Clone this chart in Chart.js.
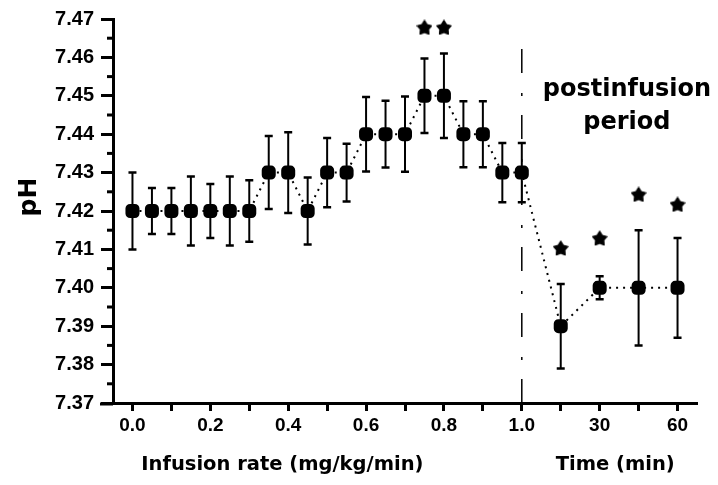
<!DOCTYPE html>
<html>
<head>
<meta charset="utf-8">
<script src="https://cdn.jsdelivr.net/npm/chart.js@4/dist/chart.umd.min.js"></script>
<style>
  body { margin: 0; background: #fff; }
  #wrap { width: 718px; height: 485px; }
</style>
</head>
<body>
<div id="wrap"><canvas id="phChart" width="718" height="485"></canvas></div>
<script>
// ================= DATA =================
const infusionRate = [0, 0.05, 0.1, 0.15, 0.2, 0.25, 0.3, 0.35, 0.4, 0.45, 0.5,
                      0.55, 0.6, 0.65, 0.7, 0.75, 0.8, 0.85, 0.9, 0.95, 1.0];
const phInfusion = [7.42, 7.42, 7.42, 7.42, 7.42, 7.42, 7.42, 7.43, 7.43, 7.42, 7.43,
                    7.43, 7.44, 7.44, 7.44, 7.45, 7.45, 7.44, 7.44, 7.43, 7.43];
const errInfusion = [0.010, 0.006, 0.006, 0.009, 0.007, 0.009, 0.008, 0.0095, 0.0105, 0.0087, 0.009,
                     0.0075, 0.0097, 0.0087, 0.0098, 0.0097, 0.011, 0.0086, 0.0086, 0.0077, 0.0077];

// postinfusion: 15, 30, 45, 60 min placed after 1.0 on the same axis
const postTime = [15, 30, 45, 60];
const postPos = [1.1, 1.2, 1.3, 1.4];
const phPost = [7.39, 7.40, 7.40, 7.40];
const errPost = [0.011, 0.003, 0.015, 0.013];

// significance marks
const starX = [0.75, 0.8, 1.1, 1.2, 1.3, 1.4];
const starY = [7.4678, 7.4678, 7.4103, 7.4129, 7.4243, 7.4217];

// ticks
const yTicks = [7.37, 7.38, 7.39, 7.40, 7.41, 7.42, 7.43, 7.44, 7.45, 7.46, 7.47];
const yMinorTicks = [7.375, 7.385, 7.395, 7.405, 7.415, 7.425, 7.435, 7.445, 7.455, 7.465];
const xTicks = [0, 0.1, 0.2, 0.3, 0.4, 0.5, 0.6, 0.7, 0.8, 0.9, 1.0, 1.1, 1.2, 1.3, 1.4];
const xTickLabels = ["0.0", "", "0.2", "", "0.4", "", "0.6", "", "0.8", "", "1.0", "", "30", "", "60"];

const divider = 1.0;

// ================= POINTS =================
const allX = infusionRate.concat(postPos);
const allY = phInfusion.concat(phPost);
const allErr = errInfusion.concat(errPost);
const points = allX.map((x, i) => ({ x: x, y: allY[i] }));
const stars = starX.map((x, i) => ({ x: x, y: starY[i] }));

// filled 5 point star used as point style
const starImg = document.createElement("canvas");
starImg.width = 16; starImg.height = 16;
(function () {
  const c = starImg.getContext("2d");
  c.fillStyle = "#000";
  c.beginPath();
  for (let k = 0; k < 10; k++) {
    const r = k % 2 ? 4.2 : 7.4;
    const a = -Math.PI / 2 + k * Math.PI / 5;
    const px = 8 + r * Math.cos(a), py = 8.6 + r * Math.sin(a);
    k ? c.lineTo(px, py) : c.moveTo(px, py);
  }
  c.closePath();
  c.fill();
  c.lineJoin = "round";
  c.lineWidth = 1.4;
  c.strokeStyle = "#000";
  c.stroke();
})();

Chart.defaults.font.family = "'Liberation Sans', Arial, sans-serif";
Chart.defaults.color = "#000";

// ================= EXTRAS PLUGIN =================
const extras = {
  id: "extras",
  beforeDatasetsDraw(chart) {
    const ctx = chart.ctx, xs = chart.scales.x, ys = chart.scales.y;
    ctx.save();
    ctx.strokeStyle = "#000";
    allX.forEach((x, i) => {
      const px = xs.getPixelForValue(x);
      const top = ys.getPixelForValue(allY[i] + allErr[i]);
      const bot = ys.getPixelForValue(allY[i] - allErr[i]);
      ctx.lineWidth = 2;
      ctx.beginPath();
      ctx.moveTo(px, top); ctx.lineTo(px, bot);
      ctx.stroke();
      ctx.lineWidth = 2.5;
      ctx.beginPath();
      ctx.moveTo(px - 4, top); ctx.lineTo(px + 4, top);
      ctx.moveTo(px - 4, bot); ctx.lineTo(px + 4, bot);
      ctx.stroke();
    });
    ctx.restore();
  },
  afterDraw(chart) {
    const ctx = chart.ctx, xs = chart.scales.x, ys = chart.scales.y;
    const area = chart.chartArea;
    ctx.save();
    ctx.fillStyle = "#000";
    ctx.strokeStyle = "#000";

    // minor y ticks
    ctx.lineWidth = 3;
    yMinorTicks.forEach(v => {
      const py = ys.getPixelForValue(v);
      ctx.beginPath();
      ctx.moveTo(area.left - 6, py); ctx.lineTo(area.left, py);
      ctx.stroke();
    });
    // x axis sticks out a bit to the left
    ctx.beginPath();
    ctx.moveTo(area.left - 13, area.bottom + 1); ctx.lineTo(area.left, area.bottom + 1);
    ctx.stroke();

    ctx.textAlign = "center";
    ctx.textBaseline = "middle";

    // postinfusion label
    ctx.font = "bold 24px 'DejaVu Sans'";
    ctx.fillText("postinfusion", xs.getPixelForValue(1.27), ys.getPixelForValue(7.4515));
    ctx.fillText("period", xs.getPixelForValue(1.27), ys.getPixelForValue(7.443));

    // axis titles
    ctx.font = "bold 19.5px 'DejaVu Sans'";
    ctx.fillText("Infusion rate (mg/kg/min)", xs.getPixelForValue(0.385), area.bottom + 62);
    ctx.fillText("Time (min)", xs.getPixelForValue(1.24), area.bottom + 62);

    ctx.translate(29, 197);
    ctx.rotate(-Math.PI / 2);
    ctx.font = "bold 25px 'DejaVu Sans'";
    ctx.fillText("pH", 0, 0);
    ctx.restore();
  }
};

// ================= CHART =================
new Chart(document.getElementById("phChart"), {
  type: "scatter",
  data: {
    datasets: [
      {
        label: "pH",
        data: points,
        showLine: true,
        borderColor: "#000",
        borderWidth: 2,
        borderDash: [2, 5],
        backgroundColor: "#000",
        pointStyle: "rectRounded",
        pointRadius: 7,
        pointHoverRadius: 7
      },
      {
        label: "end of infusion",
        data: [{ x: divider, y: 7.37 }, { x: divider, y: 7.4659 }],
        showLine: true,
        borderColor: "#000",
        borderWidth: 1.5,
        borderDash: [24, 19, 3, 20],
        pointRadius: 0
      },
      {
        label: "p < 0.05",
        data: stars,
        showLine: false,
        pointStyle: starImg,
        pointRadius: 8
      }
    ]
  },
  plugins: [extras],
  options: {
    responsive: false,
    animation: false,
    layout: { padding: { top: 16, right: 21, left: 0, bottom: 0 } },
    plugins: {
      legend: { display: false },
      tooltip: { enabled: false }
    },
    scales: {
      x: {
        type: "linear",
        min: -0.05,
        max: 1.45,
        afterFit: s => { s.height = 82; },
        afterBuildTicks: s => { s.ticks = xTicks.map(v => ({ value: v })); },
        border: { display: true, color: "#000", width: 3 },
        grid: { drawOnChartArea: false, drawTicks: true, tickLength: 8, tickWidth: 3, tickColor: "#000" },
        ticks: {
          autoSkip: false,
          maxRotation: 0,
          padding: 3,
          font: { size: 19, weight: "bold" },
          callback: (v, i) => xTickLabels[i]
        }
      },
      y: {
        min: 7.37,
        max: 7.47,
        afterFit: s => { s.width = 113; },
        afterBuildTicks: s => { s.ticks = yTicks.map(v => ({ value: v })); },
        border: { display: true, color: "#000", width: 3 },
        grid: { drawOnChartArea: false, drawTicks: true, tickLength: 12, tickWidth: 3, tickColor: "#000" },
        ticks: {
          padding: 7,
          font: { size: 20, weight: "bold" },
          callback: v => v.toFixed(2)
        }
      }
    }
  }
});
</script>
</body>
</html>
